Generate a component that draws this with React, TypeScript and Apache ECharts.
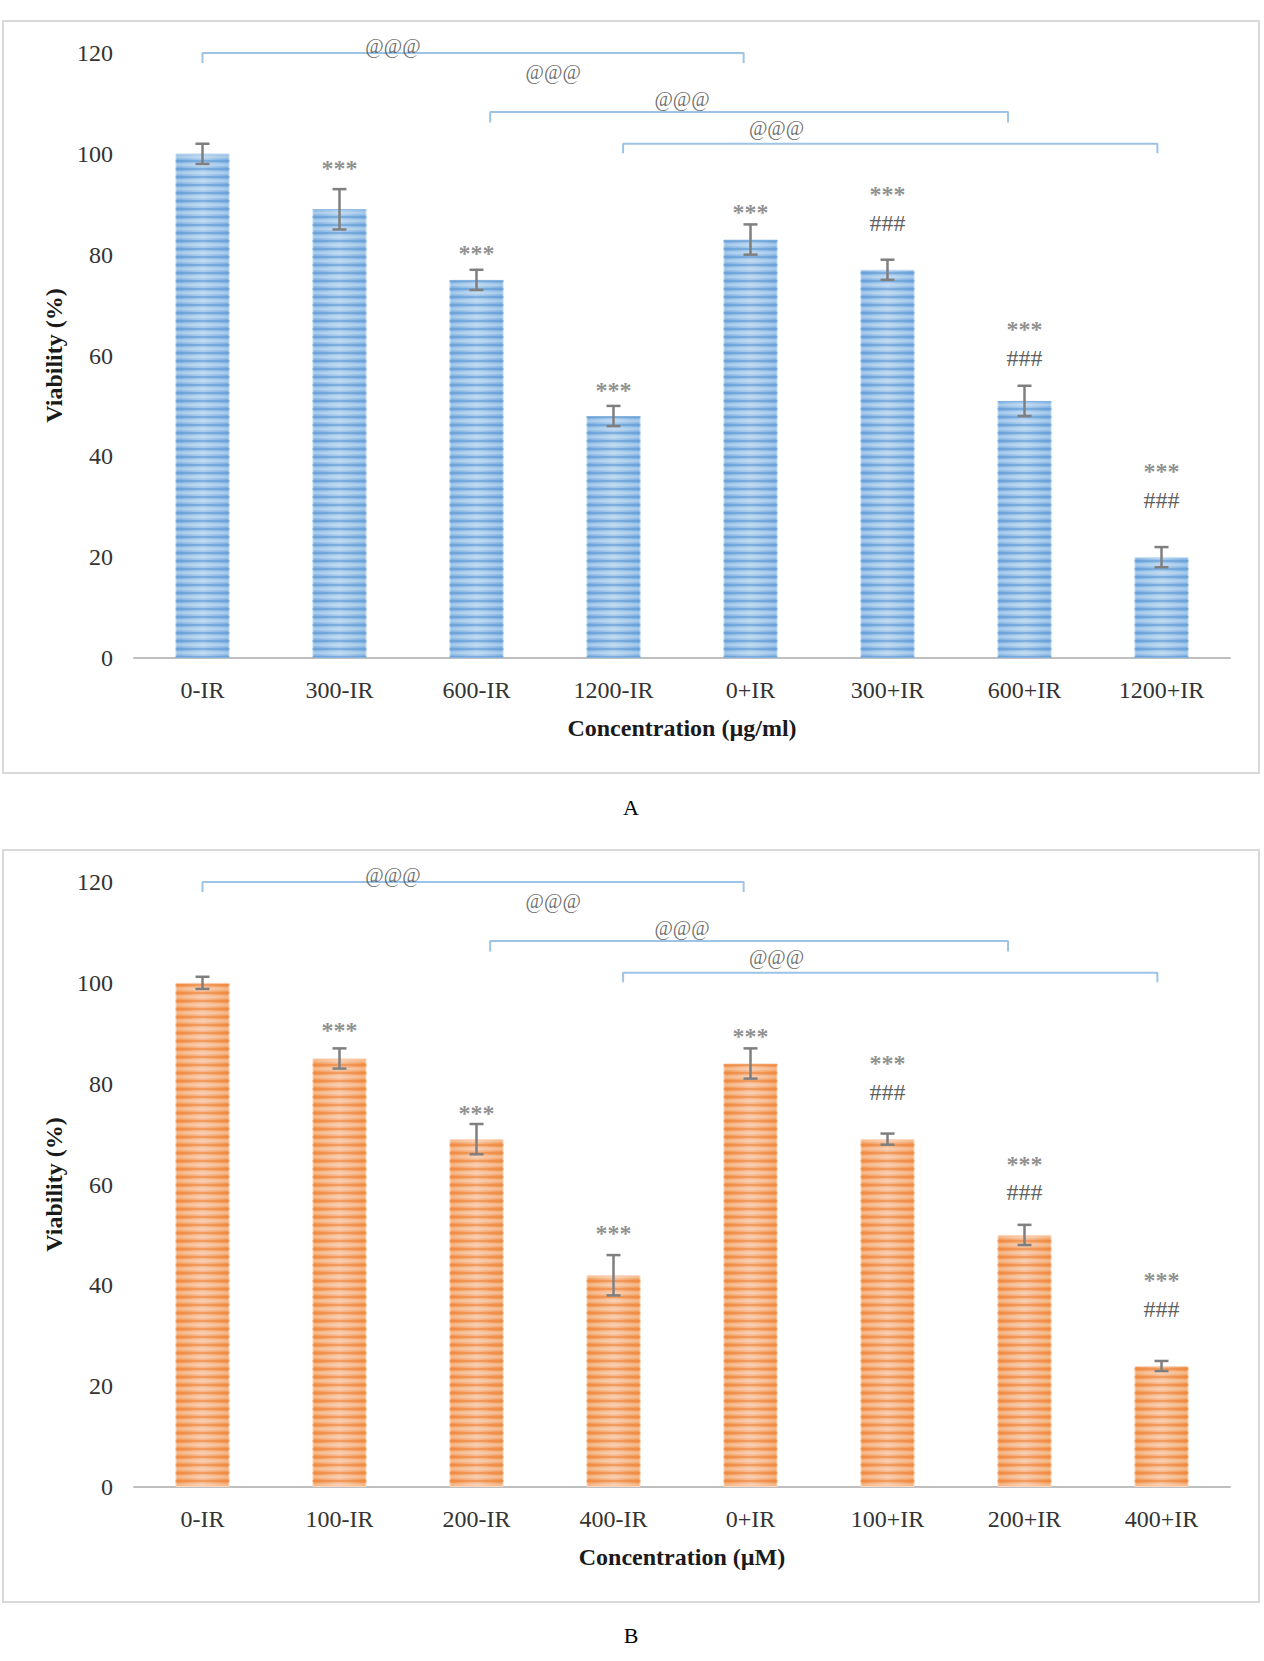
import { useEffect, useRef } from "react";
import * as echarts from "echarts";

const categoriesA = ["0-IR", "300-IR", "600-IR", "1200-IR", "0+IR", "300+IR", "600+IR", "1200+IR"];
const categoriesB = ["0-IR", "100-IR", "200-IR", "400-IR", "0+IR", "100+IR", "200+IR", "400+IR"];

// viability (%) and error (+/-) per group
const viabilityA = [100, 89, 75, 48, 83, 77, 51, 20];
const errorA = [2, 4, 2, 2, 3, 2, 3, 2];
const viabilityB = [100, 85, 69, 42, 84, 69, 50, 24];
const errorB = [1.2, 2, 3, 4, 3, 1.1, 2, 1];

// where the significance marks sit (y value), null = no mark
const starsYA = [null, 97.7, 81, 53.8, 89, 92.7, 65.9, 37.7];
const hashYA = [null, null, null, null, null, 86.3, 59.5, 31.3];
const starsYB = [null, 91.2, 74.8, 51, 90, 84.6, 64.7, 41.7];
const hashYB = [null, null, null, null, null, 78.3, 58.5, 35.3];

// comparison brackets (same in both panels), x in category positions
const bracketSpans = [
  [0, 3.95],
  [2.1, 5.88],
  [3.07, 6.97],
];
const bracketY = [120, 108.3, 102];
const bracketDrop = [2, 2.1, 1.9];
const atLabels = [
  [1.39, 121.3],
  [2.56, 116.3],
  [3.5, 110.8],
  [4.19, 105.2],
];

const yMin = 0;
const yMax = 120;
const yStep = 20;

const FONT = "'Liberation Serif', 'Times New Roman', serif";

function stripeTile(rows: string[]) {
  const c = document.createElement("canvas");
  c.width = 4;
  c.height = rows.length;
  const ctx = c.getContext("2d")!;
  rows.forEach((col, i) => {
    ctx.fillStyle = col;
    ctx.fillRect(0, i, 4, 1);
  });
  return { image: c.toDataURL(), repeat: "repeat", imageWidth: 4, imageHeight: rows.length };
}

function buildPanel(
  idx: number,
  values: number[],
  errors: number[],
  starsY: (number | null)[],
  hashY: (number | null)[],
  palette: { edge: string; mid: string; dark: string; border: string }
) {
  const catX = idx * 2;
  const valX = idx * 2 + 1;
  const series: any[] = [];

  series.push({
    type: "bar",
    xAxisIndex: catX,
    yAxisIndex: idx,
    data: values,
    barWidth: 54,
    itemStyle: {
      color: new echarts.graphic.LinearGradient(0, 0, 1, 0, [
        { offset: 0, color: palette.edge },
        { offset: 0.5, color: palette.mid },
        { offset: 1, color: palette.edge },
      ]),
      borderColor: palette.border,
      borderWidth: 1,
    },
    silent: true,
  });
  series.push({
    type: "bar",
    xAxisIndex: catX,
    yAxisIndex: idx,
    data: values,
    barWidth: 54,
    barGap: "-100%",
    itemStyle: {
      color: stripeTile([
        palette.dark,
        palette.dark,
        "rgba(255,255,255,0)",
        "rgba(255,255,255,0.2)",
        "rgba(255,255,255,0.3)",
        "rgba(255,255,255,0.3)",
        "rgba(255,255,255,0.15)",
        "rgba(255,255,255,0)",
      ]),
    },
    silent: true,
  });

  series.push({
    type: "custom",
    xAxisIndex: catX,
    yAxisIndex: idx,
    data: values.map((v, i) => [i, v - errors[i], v + errors[i]]),
    encode: { x: 0, y: [1, 2] },
    z: 5,
    silent: true,
    renderItem: (_params: any, api: any) => {
      const top = api.coord([api.value(0), api.value(2)]);
      const bot = api.coord([api.value(0), api.value(1)]);
      const cap = 7;
      const style = { stroke: "#7f7f7f", lineWidth: 2.5 };
      return {
        type: "group",
        children: [
          { type: "line", shape: { x1: top[0], y1: top[1], x2: bot[0], y2: bot[1] }, style },
          { type: "line", shape: { x1: top[0] - cap, y1: top[1], x2: top[0] + cap, y2: top[1] }, style },
          { type: "line", shape: { x1: bot[0] - cap, y1: bot[1], x2: bot[0] + cap, y2: bot[1] }, style },
        ],
      };
    },
  });

  bracketSpans.forEach(([x1, x2], b) => {
    const y = bracketY[b];
    const y0 = y - bracketDrop[b];
    series.push({
      type: "line",
      xAxisIndex: valX,
      yAxisIndex: idx,
      data: [
        [x1, y0],
        [x1, y],
        [x2, y],
        [x2, y0],
      ],
      symbol: "none",
      clip: false,
      lineStyle: { color: "#9dc3e6", width: 2 },
      z: 4,
      silent: true,
    });
  });

  const textSeries = (
    points: number[][],
    text: string,
    size: number,
    color: string,
    dy: number,
    weight: string
  ) => ({
    type: "scatter",
    xAxisIndex: valX,
    yAxisIndex: idx,
    data: points,
    symbolSize: 1,
    clip: false,
    itemStyle: { color: "rgba(0,0,0,0)" },
    label: {
      show: true,
      position: "inside",
      formatter: text,
      fontFamily: FONT,
      fontSize: size,
      fontWeight: weight,
      color,
      offset: [0, dy],
    },
    z: 6,
    silent: true,
  });

  const pts = (arr: (number | null)[]) =>
    arr.map((y, i) => (y == null ? null : [i, y])).filter((p) => p != null) as number[][];

  series.push(textSeries(pts(starsY), "***", 24, "#737373", 3, "bold"));
  series.push(textSeries(pts(hashY), "###", 24, "#333333", 0, "normal"));
  series.push(textSeries(atLabels, "@@@", 20, "#4d4d4d", 0, "normal"));

  return series;
}

export default function App() {
  const chartRef = useRef<HTMLDivElement>(null);

  useEffect(() => {
    if (!chartRef.current) return;
    const chart = echarts.init(chartRef.current, undefined, { renderer: "svg" });

    const panelTop = [53, 882];
    const xNames = ["Concentration (\u00b5g/ml)", "Concentration (\u00b5M)"];
    const catsList = [categoriesA, categoriesB];

    const grid = panelTop.map((top) => ({ left: 134, width: 1096, top, height: 605 }));

    const xAxis: any[] = [];
    const yAxis: any[] = [];
    panelTop.forEach((_, i) => {
      xAxis.push({
        type: "category",
        gridIndex: i,
        data: catsList[i],
        axisLine: { lineStyle: { color: "#bfbfbf", width: 2 } },
        axisTick: { show: false },
        axisLabel: { interval: 0, margin: 20, fontFamily: FONT, fontSize: 24, color: "#333333" },
        name: xNames[i],
        nameLocation: "middle",
        nameGap: 58,
        nameTextStyle: { fontFamily: FONT, fontSize: 24, fontWeight: "bold", color: "#1a1a1a" },
      });
      xAxis.push({ type: "value", gridIndex: i, min: -0.5, max: 7.5, show: false });
      yAxis.push({
        type: "value",
        gridIndex: i,
        min: yMin,
        max: yMax,
        interval: yStep,
        axisLine: { show: false },
        axisTick: { show: false },
        splitLine: { show: false },
        axisLabel: { margin: 21, fontFamily: FONT, fontSize: 24, color: "#333333" },
        name: "Viability (%)",
        nameLocation: "middle",
        nameRotate: 90,
        nameGap: 65,
        nameTextStyle: { fontFamily: FONT, fontSize: 24, fontWeight: "bold", color: "#1a1a1a" },
      });
    });

    const series = [
      ...buildPanel(0, viabilityA, errorA, starsYA, hashYA, {
        edge: "#7cafe0",
        mid: "#a9cbec",
        dark: "rgba(84,148,210,0.5)",
        border: "#b4d2ef",
      }),
      ...buildPanel(1, viabilityB, errorB, starsYB, hashYB, {
        edge: "#f1964f",
        mid: "#f6bb93",
        dark: "rgba(237,125,49,0.5)",
        border: "#f8cdb0",
      }),
    ];

    chart.setOption({
      animation: false,
      backgroundColor: "#ffffff",
      grid,
      xAxis,
      yAxis,
      series,
      graphic: [
        {
          type: "rect",
          shape: { x: 3, y: 21, width: 1256, height: 752 },
          style: { fill: "none", stroke: "#d9d9d9", lineWidth: 2 },
          silent: true,
        },
        {
          type: "rect",
          shape: { x: 3, y: 850, width: 1256, height: 752 },
          style: { fill: "none", stroke: "#d9d9d9", lineWidth: 2 },
          silent: true,
        },
        {
          type: "text",
          x: 631,
          y: 807,
          style: { text: "A", fontFamily: FONT, fontSize: 22, fill: "#000", align: "center", verticalAlign: "middle" },
        },
        {
          type: "text",
          x: 631,
          y: 1635,
          style: { text: "B", fontFamily: FONT, fontSize: 22, fill: "#000", align: "center", verticalAlign: "middle" },
        },
      ],
    });

    return () => {
      chart.dispose();
    };
  }, []);

  return (
    <div
      ref={chartRef}
      style={{ position: "absolute", left: 0, top: 0, width: 1264, height: 1661, background: "#fff" }}
    />
  );
}
